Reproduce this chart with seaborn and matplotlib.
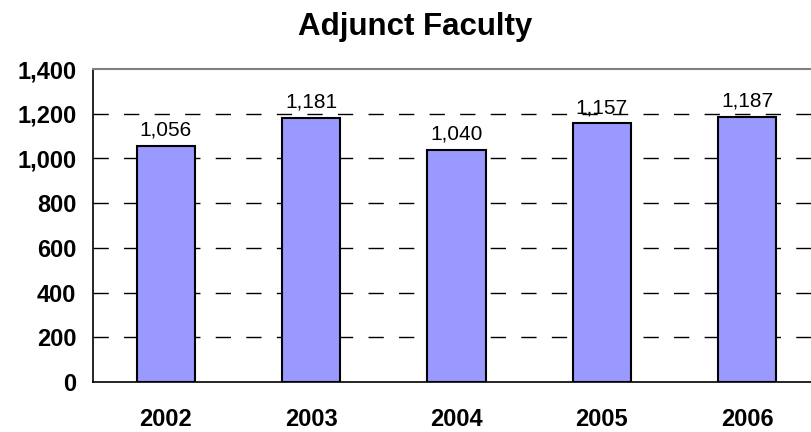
import numpy as np
import pandas as pd
import matplotlib
from matplotlib import pyplot as plt
import seaborn as sns

years = ['2002', '2003', '2004', '2005', '2006']
faculty = [1056, 1181, 1040, 1157, 1187]
y_ticks = [0, 200, 400, 600, 800, 1000, 1200, 1400]

sns.set_style('white', {'text.color': 'black', 'xtick.color': 'black',
                        'ytick.color': 'black', 'axes.labelcolor': 'black'})
matplotlib.rcParams['font.family'] = ['Liberation Sans', 'DejaVu Sans']

df = pd.DataFrame({'year': years, 'count': faculty})

fig = plt.figure(figsize=(8.11, 4.32), dpi=100)
ax = fig.add_axes([0.1147, 0.1157, 0.8963, 0.7245])

sns.barplot(data=df, x='year', y='count', color='#9999FF', saturation=1,
            edgecolor='black', linewidth=1.5, width=0.4, ax=ax, zorder=3)

ax.set_ylim(0, 1400)
ax.set_xlim(-0.5, 4.5)
ax.set_yticks(y_ticks)
ax.set_yticklabels([f'{v:,}' for v in y_ticks], fontsize=17, fontweight='bold')
ax.set_xticks(range(len(years)))
ax.set_xticklabels(years, fontsize=17, fontweight='bold')
ax.tick_params(axis='x', length=0, pad=19)
ax.set_xticks(np.arange(-0.5, 5, 1), minor=True)
ax.tick_params(axis='x', which='minor', length=6, width=1, color='black', direction='out')
ax.tick_params(axis='y', length=7, width=1, color='black', direction='out', pad=5)

for v in y_ticks[1:-1]:
    ax.axhline(v, color='black', linewidth=1, linestyle=(0, (11, 11)), zorder=1)

for s in ['left', 'bottom']:
    ax.spines[s].set_color('black')
    ax.spines[s].set_linewidth(1.2)
ax.spines['top'].set_color('#808080')
ax.spines['top'].set_linewidth(1.5)
ax.spines['right'].set_visible(False)

for i, v in enumerate(faculty):
    ax.text(i, v + 28, f'{v:,}', ha='center', va='bottom', fontsize=15)

ax.set_xlabel('')
ax.set_ylabel('')
fig.suptitle('Adjunct Faculty', x=0.512, y=0.973, fontsize=22.5, fontweight='bold')

plt.savefig('out.png', dpi=100)
